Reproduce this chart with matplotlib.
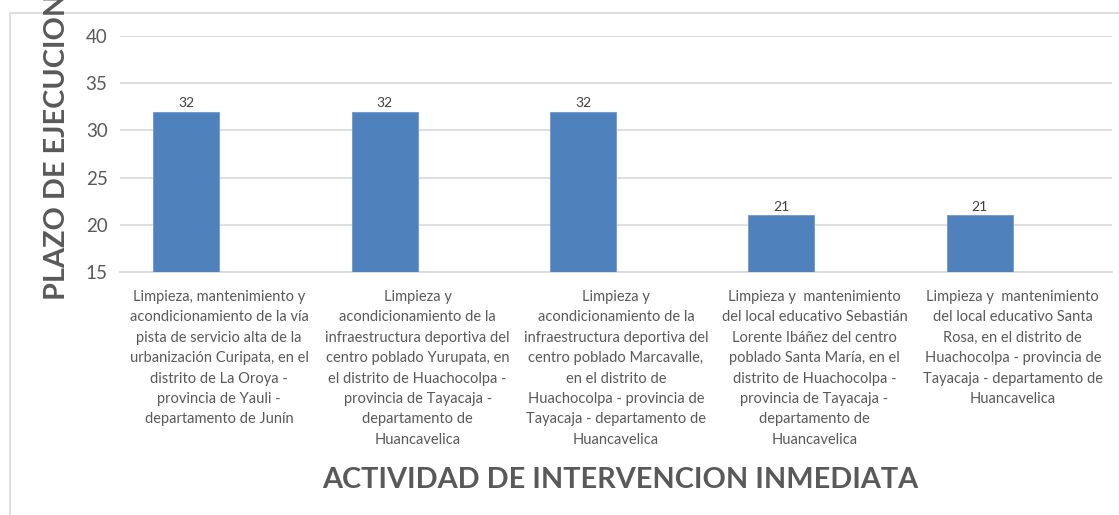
import matplotlib
matplotlib.use("Agg")
import matplotlib.pyplot as plt
from matplotlib.patches import Rectangle
import numpy as np

categories = [
    "Limpieza, mantenimiento y\nacondicionamiento de la vía\npista de servicio alta de la\nurbanización Curipata, en el\ndistrito de La Oroya -\nprovincia de Yauli -\ndepartamento de Junín",
    "Limpieza y\nacondicionamiento de la\ninfraestructura deportiva del\ncentro poblado Yurupata, en\nel distrito de Huachocolpa -\nprovincia de Tayacaja -\ndepartamento de\nHuancavelica",
    "Limpieza y\nacondicionamiento de la\ninfraestructura deportiva del\ncentro poblado Marcavalle,\nen el distrito de\nHuachocolpa - provincia de\nTayacaja - departamento de\nHuancavelica",
    "Limpieza y  mantenimiento\ndel local educativo Sebastián\nLorente Ibáñez del centro\npoblado Santa María, en el\ndistrito de Huachocolpa -\nprovincia de Tayacaja -\ndepartamento de\nHuancavelica",
    "Limpieza y  mantenimiento\ndel local educativo Santa\nRosa, en el distrito de\nHuachocolpa - provincia de\nTayacaja - departamento de\nHuancavelica",
]
plazo = [32, 32, 32, 21, 21]
yticks = [15, 20, 25, 30, 35, 40]
ylabel = "PLAZO DE EJECUCION"
xlabel = "ACTIVIDAD DE INTERVENCION INMEDIATA"

plt.rcParams['font.family'] = ['Lato', 'DejaVu Sans']

W, H = 1119, 515
fig = plt.figure(figsize=(W / 100, H / 100), dpi=100)
ax = fig.add_axes([120 / W, 1 - 272 / H, (1112 - 120) / W, (272 - 36) / H])

x = np.arange(len(plazo))
w = 0.333
ax.bar(x - w / 2, plazo, width=w, color='#4f81bd', edgecolor='#6f98cc', linewidth=0.6, zorder=3)
for xi, v in zip(x, plazo):
    ax.text(xi - w / 2, v + 0.3, str(v), ha='center', va='bottom', fontsize=10, color='#404040')

ax.set_xlim(-0.5, len(plazo) - 0.5)
ax.set_ylim(15, 40)
ax.set_yticks(yticks)
ax.set_xticks(x)
ax.set_xticklabels(categories, fontsize=10.5, color='#595959', linespacing=1.58, va='top')
ax.tick_params(axis='x', length=0, pad=13)
ax.tick_params(axis='y', length=0, pad=9, labelsize=13.5, labelcolor='#595959')
ax.grid(axis='y', color='#d9d9d9', linewidth=1.2, zorder=0)
for s in ['top', 'right', 'left']:
    ax.spines[s].set_visible(False)
ax.spines['bottom'].set_color('#d9d9d9')
ax.spines['bottom'].set_linewidth(1.2)

fig.text(620 / W, 1 - 480 / H, xlabel, ha='center', va='center', fontsize=20.8,
         fontweight='bold', color='#595959')
fig.text(57 / W, 1 - 300 / H, ylabel, ha='center', va='bottom', rotation=90,
         fontsize=20.8, fontweight='bold', color='#595959')

fig.patches.append(Rectangle((10 / W, -0.1), 1.2, 1 - 13 / H + 0.1, transform=fig.transFigure,
                             fill=False, edgecolor='#d9d9d9', linewidth=1.2))

fig.savefig("out.png", dpi=100)
